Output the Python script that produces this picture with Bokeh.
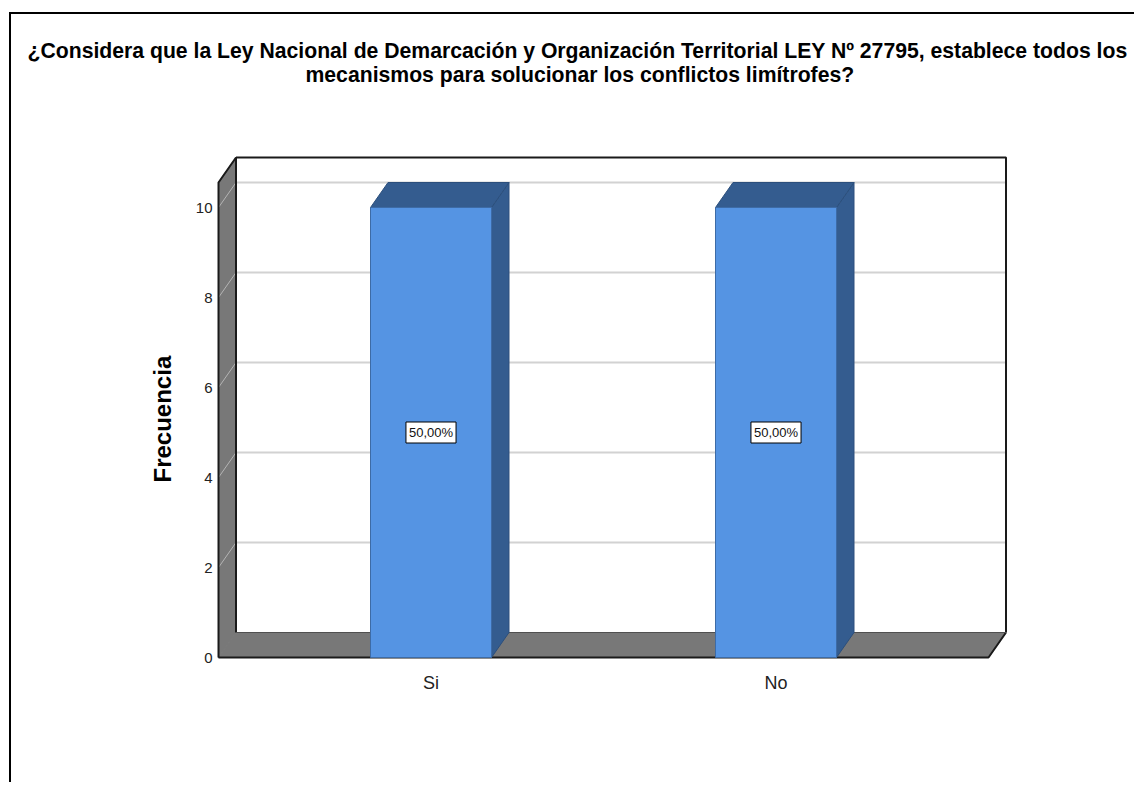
from bokeh.plotting import figure
from bokeh.models import Range1d, FixedTicker, ColumnDataSource, Title
from bokeh.embed import file_html
from bokeh.resources import INLINE
from bokeh.core.properties import value

# ---- data ----
categories = ["Si", "No"]
frecuencia = [10, 10]
y_ticks = [0, 2, 4, 6, 8, 10]
title_lines = [
    "¿Considera que la Ley Nacional de Demarcación y Organización Territorial LEY Nº 27795, establece todos los",
    "mecanismos para solucionar los conflictos limítrofes?",
]
y_label = "Frecuencia"

# ---- layout constants (screen pixels) ----
W, H = 1125, 770
ORG_X, ORG_Y = 11, 14
X0_PX, XS = 430.5, 345.0
Y0_PX, YS = 657.0, 45.0
FR_L, FR_R, FR_T, FR_B = 215, 1007, 154, 660
BOX_L, BOX_R, WALL_TOP = 218, 988, 157
DEP_X, DEP_Y = 17.5, 25.0
BAR_W_PX = 121.0
FONT = "Liberation Sans"
TITLE_SIZE = "21.2px"

def ux(px):
    return 1 + (px - X0_PX) / XS

def uy(py):
    return (Y0_PX - py) / YS

ddx = DEP_X / XS
ddy = DEP_Y / YS
bx0, bx1 = ux(BOX_L), ux(BOX_R)
top_back = uy(WALL_TOP)
top_front = top_back - ddy

p = figure(width=W, height=H, output_backend="svg", toolbar_location=None,
           x_range=Range1d(ux(FR_L), ux(FR_R)), y_range=Range1d(uy(FR_B), uy(FR_T)),
           min_border_left=FR_L - ORG_X, min_border_right=ORG_X + W - FR_R,
           min_border_top=FR_T - ORG_Y, min_border_bottom=ORG_Y + H - FR_B)
p.styles = {"border-top": "2px solid black", "border-left": "2px solid black",
            "margin-top": "12px", "margin-left": "9px"}
p.outline_line_color = None
p.background_fill_color = "white"
p.border_fill_color = "white"
p.grid.visible = False

# ---- walls and floor ----
GRAY = "#787878"
p.patch([bx0, bx1, bx1 + ddx, bx0 + ddx], [0, 0, ddy, ddy], fill_color=GRAY, line_color=GRAY)
p.patch([bx0, bx0, bx0 + ddx, bx0 + ddx], [0, top_front, top_back, ddy], fill_color=GRAY, line_color=GRAY)

# gridlines
gl = y_ticks[1:]
p.multi_line([[bx0 + ddx, bx1 + ddx] for v in gl], [[v + ddy, v + ddy] for v in gl],
             line_color="#d2d2d2", line_width=2)
p.multi_line([[bx0, bx0 + ddx] for v in gl], [[v, v + ddy] for v in gl],
             line_color="#b4b4b4", line_width=1)

# outlines
p.multi_line(
    [[bx0 + ddx, bx1 + ddx, bx1 + ddx], [bx0 + ddx, bx0 + ddx], [bx0, bx0, bx0 + ddx],
     [bx0, bx1, bx1 + ddx]],
    [[top_back, top_back, ddy], [ddy, top_back], [0, top_front, top_back],
     [0, 0, ddy]],
    line_color="#1a1a1a", line_width=2)
p.line([bx0 + ddx, bx1 + ddx], [ddy, ddy], line_color="#505050", line_width=1)

# ---- bars ----
xs = [i + 1 for i in range(len(categories))]
bw = BAR_W_PX / XS
src = ColumnDataSource(dict(
    left=[x - bw / 2 for x in xs], right=[x + bw / 2 for x in xs],
    top=frecuencia, bottom=[0] * len(xs)))
side_xs = [[x + bw / 2, x + bw / 2 + ddx, x + bw / 2 + ddx, x + bw / 2] for x in xs]
side_ys = [[0, ddy, v + ddy, v] for v in frecuencia]
top_xs = [[x - bw / 2, x - bw / 2 + ddx, x + bw / 2 + ddx, x + bw / 2] for x in xs]
top_ys = [[v, v + ddy, v + ddy, v] for v in frecuencia]
DARK = "#345c8f"
p.patches(side_xs, side_ys, fill_color=DARK, line_color="#2c4f7c", line_width=1)
p.patches(top_xs, top_ys, fill_color=DARK, line_color="#2c4f7c", line_width=1)
p.quad(left="left", right="right", top="top", bottom="bottom", source=src,
       fill_color="#5594e3", line_color="#3d6ba6", line_width=1)

total = sum(frecuencia)
lab = ColumnDataSource(dict(
    x=xs, y=[v / 2 for v in frecuencia],
    t=[("%.2f%%" % (v / total * 100)).replace(".", ",") for v in frecuencia]))
p.text(x="x", y="y", text="t", source=lab, text_align="center",
       text_baseline="middle", text_font=value(FONT), text_font_size="13px",
       text_color="#111111", background_fill_color="white",
       border_line_color="black", border_line_width=1, padding=3)

# ---- title: spacer nearest the frame, then line 2, then line 1 ----
p.title = None
p.add_layout(Title(text=" ", text_font=FONT, text_font_size=TITLE_SIZE, standoff=44), "above")
p.add_layout(Title(text=title_lines[1], align="left", offset=90, text_font=FONT,
                   text_font_style="bold", text_font_size=TITLE_SIZE, text_color="black",
                   standoff=0), "above")
p.add_layout(Title(text=title_lines[0], align="left", offset=-188, text_font=FONT,
                   text_font_style="bold", text_font_size=TITLE_SIZE, text_color="black",
                   standoff=-2), "above")

# ---- axes ----
p.yaxis.ticker = FixedTicker(ticks=y_ticks)
p.yaxis.axis_line_color = None
p.yaxis.major_tick_line_color = None
p.yaxis.minor_tick_line_color = None
p.yaxis.major_tick_out = 0
p.yaxis.major_label_standoff = 3
p.yaxis.major_label_text_font = FONT
p.yaxis.major_label_text_font_size = "15px"
p.yaxis.major_label_text_color = "#222222"

# y axis title placed beside the tick labels, slightly below the frame centre
p.add_layout(Title(text=y_label, align="left", offset=178, text_font=FONT,
                   text_font_style="bold", text_font_size="24px", text_color="black",
                   standoff=34), "left")

p.xaxis.ticker = FixedTicker(ticks=xs)
p.xaxis.major_label_overrides = {x: c for x, c in zip(xs, categories)}
p.xaxis.axis_line_color = None
p.xaxis.major_tick_line_color = None
p.xaxis.minor_tick_line_color = None
p.xaxis.major_tick_out = 0
p.xaxis.major_label_standoff = 12
p.xaxis.major_label_text_font = FONT
p.xaxis.major_label_text_font_size = "18px"
p.xaxis.major_label_text_color = "#222222"

open("out.html", "w").write(file_html(p, INLINE))
